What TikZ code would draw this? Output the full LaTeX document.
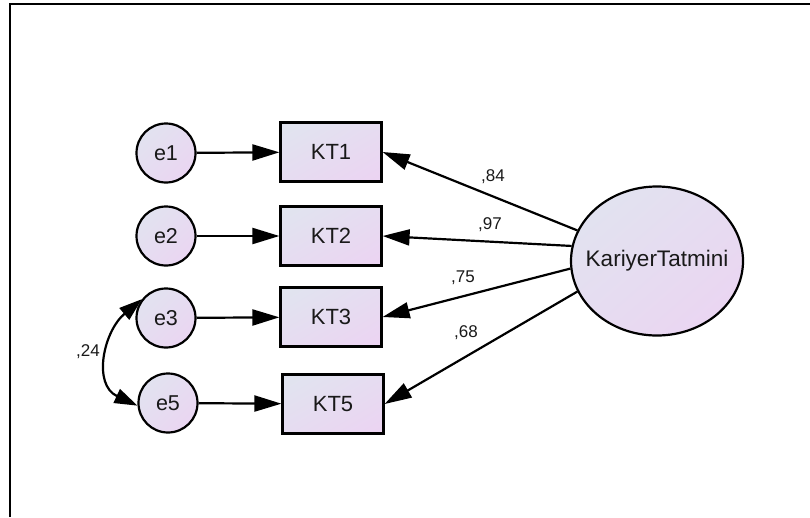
\documentclass[tikz,border=0pt]{standalone}
\usepackage{fontspec}
\setmainfont{Liberation Sans}
\usetikzlibrary{arrows.meta,shapes.geometric,shadings}

\definecolor{fillA}{RGB}{224,229,239}
\definecolor{fillB}{RGB}{236,211,242}
\definecolor{fillM}{RGB}{230,220,241}
\definecolor{ink}{RGB}{25,25,25}

\tikzset{
  grad/.style={shade, upper left=fillA, lower right=fillB,
               upper right=fillM, lower left=fillM},
  errc/.style={circle, draw, line width=2.2pt, grad, minimum size=59pt,
               inner sep=0pt, text=ink, font=\fontsize{21.5}{25}\selectfont},
  obs/.style={rectangle, draw, line width=2.2pt, grad, minimum width=101pt,
              minimum height=59pt, inner sep=0pt, text=ink, font=\fontsize{22}{25}\selectfont},
  lat/.style={ellipse, draw, line width=2.2pt, grad, minimum width=172pt,
              minimum height=149pt, inner xsep=-14pt, inner ysep=0pt, text=ink,
              font=\fontsize{22.5}{26}\selectfont},
  regpath/.style={line width=2.2pt, -{Triangle[length=27pt,width=16pt]}},
  covpath/.style={line width=2.2pt, {Triangle[length=23pt,width=15pt]}-{Triangle[length=23pt,width=15pt]}},
  est/.style={font=\fontsize{17}{19}\selectfont, text=ink, inner sep=0pt}
}

\begin{document}
\begin{tikzpicture}[x=1pt, y=-1pt]
  \useasboundingbox (0,0) rectangle (810,517);
  \fill[white] (0,0) rectangle (810,517);

  % frame
  \draw[line width=2.2pt] (10,517) -- (10,4) -- (810,4);

  % error terms
  \node[errc] (e1) at (166,153) {e1};
  \node[errc] (e2) at (166,236) {e2};
  \node[errc] (e3) at (166,318) {e3};
  \node[errc] (e5) at (168,403) {e5};

  % observed indicators
  \node[obs] (kt1) at (331,152) {KT1};
  \node[obs] (kt2) at (331,236) {KT2};
  \node[obs] (kt3) at (331,317) {KT3};
  \node[obs] (kt5) at (333,404) {KT5};

  % latent factor
  \node[lat] (kt) at (657,261) {KariyerTatmini};

  % error paths
  \draw[regpath] (e1) -- (kt1);
  \draw[regpath] (e2) -- (kt2);
  \draw[regpath] (e3) -- (kt3);
  \draw[regpath] (e5) -- (kt5);

  % loadings
  \draw[regpath] (kt.159) -- (kt1.east);
  \draw[regpath] (kt.170) -- (kt2.east);
  \draw[regpath] (kt.185) -- (kt3.east);
  \draw[regpath] (kt.201) -- (kt5.east);

  \node[est] (l1) at (493,177) {,84};
  \node[est] (l2) at (490,225) {,97};
  \node[est] (l3) at (463,278) {,75};
  \node[est] (l4) at (466,333) {,68};

  % error covariance
  \draw[covpath] (e3.142) to[out=220, in=155, looseness=1.2] (e5.185);
  \node[est] (l5) at (88,352) {,24};
\end{tikzpicture}
\end{document}
